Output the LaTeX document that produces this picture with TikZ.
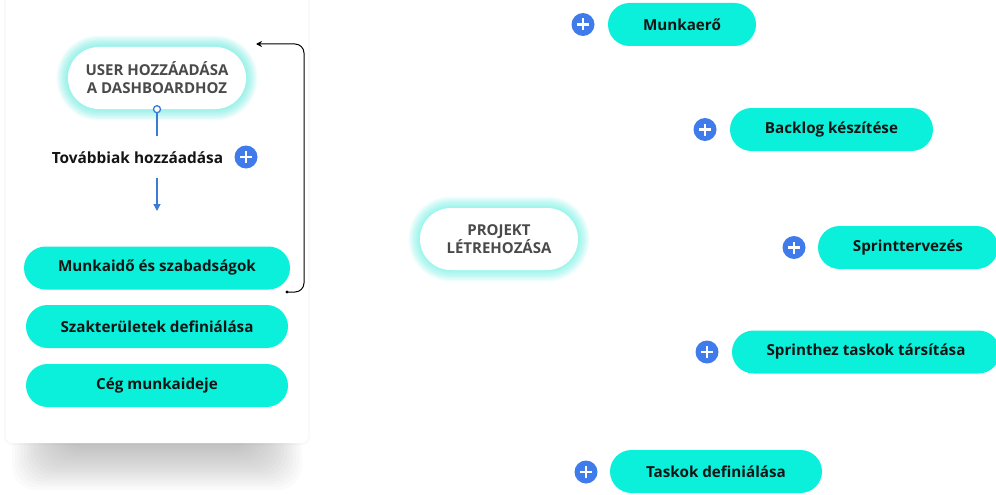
\documentclass[tikz,border=0pt]{standalone}
\usepackage{fontspec}
\setmainfont{Open Sans}
\usetikzlibrary{arrows.meta,backgrounds}
\definecolor{pillcyan}{HTML}{0AF0DA}
\definecolor{plusblue}{HTML}{3F7BEA}
\definecolor{glowcyan}{HTML}{2EE8D6}
\definecolor{darktxt}{HTML}{4A4A4A}
\definecolor{linkblue}{HTML}{3A7BD5}
\tikzset{
  pill/.style={rectangle, rounded corners=21.5pt, fill=pillcyan, minimum height=43pt,
    inner sep=0pt, font=\bfseries\fontsize{15.2}{17}\selectfont, text=black!92},
  bigpill/.style={rectangle, rounded corners=31pt, fill=white, inner sep=0pt,
    font=\bfseries\fontsize{15}{18}\selectfont, text=darktxt, align=center},
  plusbtn/.style={circle, fill=plusblue, minimum size=23pt, inner sep=0pt,
    path picture={
      \draw[white, line width=2.6pt]
        ([xshift=-6pt]path picture bounding box.center) -- ([xshift=6pt]path picture bounding box.center)
        ([yshift=-6pt]path picture bounding box.center) -- ([yshift=6pt]path picture bounding box.center);
    }},
  glow/.style={glowcyan, opacity=0.07},
}
\begin{document}
\begin{tikzpicture}[x=1pt,y=-1pt]
\useasboundingbox (0,0) rectangle (996,495);

% left panel content
\node[bigpill, minimum width=178pt, minimum height=62pt] (user) at (157,78) {USER HOZZÁADÁSA\\A DASHBOARDHOZ};
\node[circle, draw=linkblue, fill=white, line width=1.3pt, minimum size=7pt, inner sep=0pt] (dot) at (user.south) {};
\coordinate (dotend) at (157,136);
\node[font=\bfseries\fontsize{15.4}{17}\selectfont, text=black!92] (tov) at (137.5,158) {Továbbiak hozzáadása};
\node[plusbtn] (p0) at (246,157) {};
\coordinate (arrA) at (157,178);
\coordinate (arrB) at (157,211);

\node[pill, minimum width=266pt] (m1) at (157,268) {Munkaidő és szabadságok};
\node[pill, minimum width=262pt] (m2) at (157,326.5) {Szakterületek definiálása};
\node[pill, minimum width=262pt] (m3) at (157,385.5) {Cég munkaideje};

\coordinate (loopstart) at (287,292);
\coordinate (loopend) at (256,44);

\draw[linkblue, line width=1.3pt] (dot) -- (dotend);
\draw[linkblue, line width=1.3pt, -{Triangle[length=7pt,width=7pt]}] (arrA) -- (arrB);
\fill[black] (loopstart) circle (1.6pt);
\draw[black, line width=1pt, rounded corners=9pt, -{Stealth[length=6pt,width=6pt]}]
  (loopstart) -- (304,292) -- (304,44) -- (loopend);

% center
\node[bigpill, minimum width=158pt, minimum height=62pt] (proj) at (499,239) {PROJEKT\\LÉTREHOZÁSA};

% right items
\node[pill, minimum width=148pt] (r1) at (682,24.5) {Munkaerő};
\node[plusbtn] (q1) at (583,24.5) {};
\node[pill, minimum width=203pt] (r2) at (831.5,129.5) {Backlog készítése};
\node[plusbtn] (q2) at (705,129.5) {};
\node[pill, minimum width=180pt] (r3) at (908,247.5) {Sprinttervezés};
\node[plusbtn] (q3) at (794,247.5) {};
\node[pill, minimum width=268pt] (r4) at (866,352) {Sprinthez taskok társítása};
\node[plusbtn] (q4) at (707,352) {};
\node[pill, minimum width=212pt] (r5) at (716,471.5) {Taskok definiálása};
\node[plusbtn] (q5) at (586,472) {};

\begin{scope}[on background layer]
  % panel shadow
  \foreach \i in {0,...,16} {
    \fill[black, opacity=0.014, rounded corners=24pt]
      (12+3*\i, 330) rectangle (302-3*\i, 490-2.6*\i);
  }
  \fill[black, opacity=0.025, rounded corners=8pt] (4,-10) rectangle (310,445);
  \fill[white, rounded corners=7pt] (6,-10) rectangle (308,443);
  % glows
  \foreach \n in {user,proj} {
    \foreach \k in {1,...,8} {
      \fill[glow, rounded corners=31pt+1.4*\k pt]
        ([xshift=-1.4*\k pt, yshift=-1.4*\k pt]\n.south west) rectangle ([xshift=1.4*\k pt, yshift=1.4*\k pt]\n.north east);
    }
  }
\end{scope}
\end{tikzpicture}
\end{document}
